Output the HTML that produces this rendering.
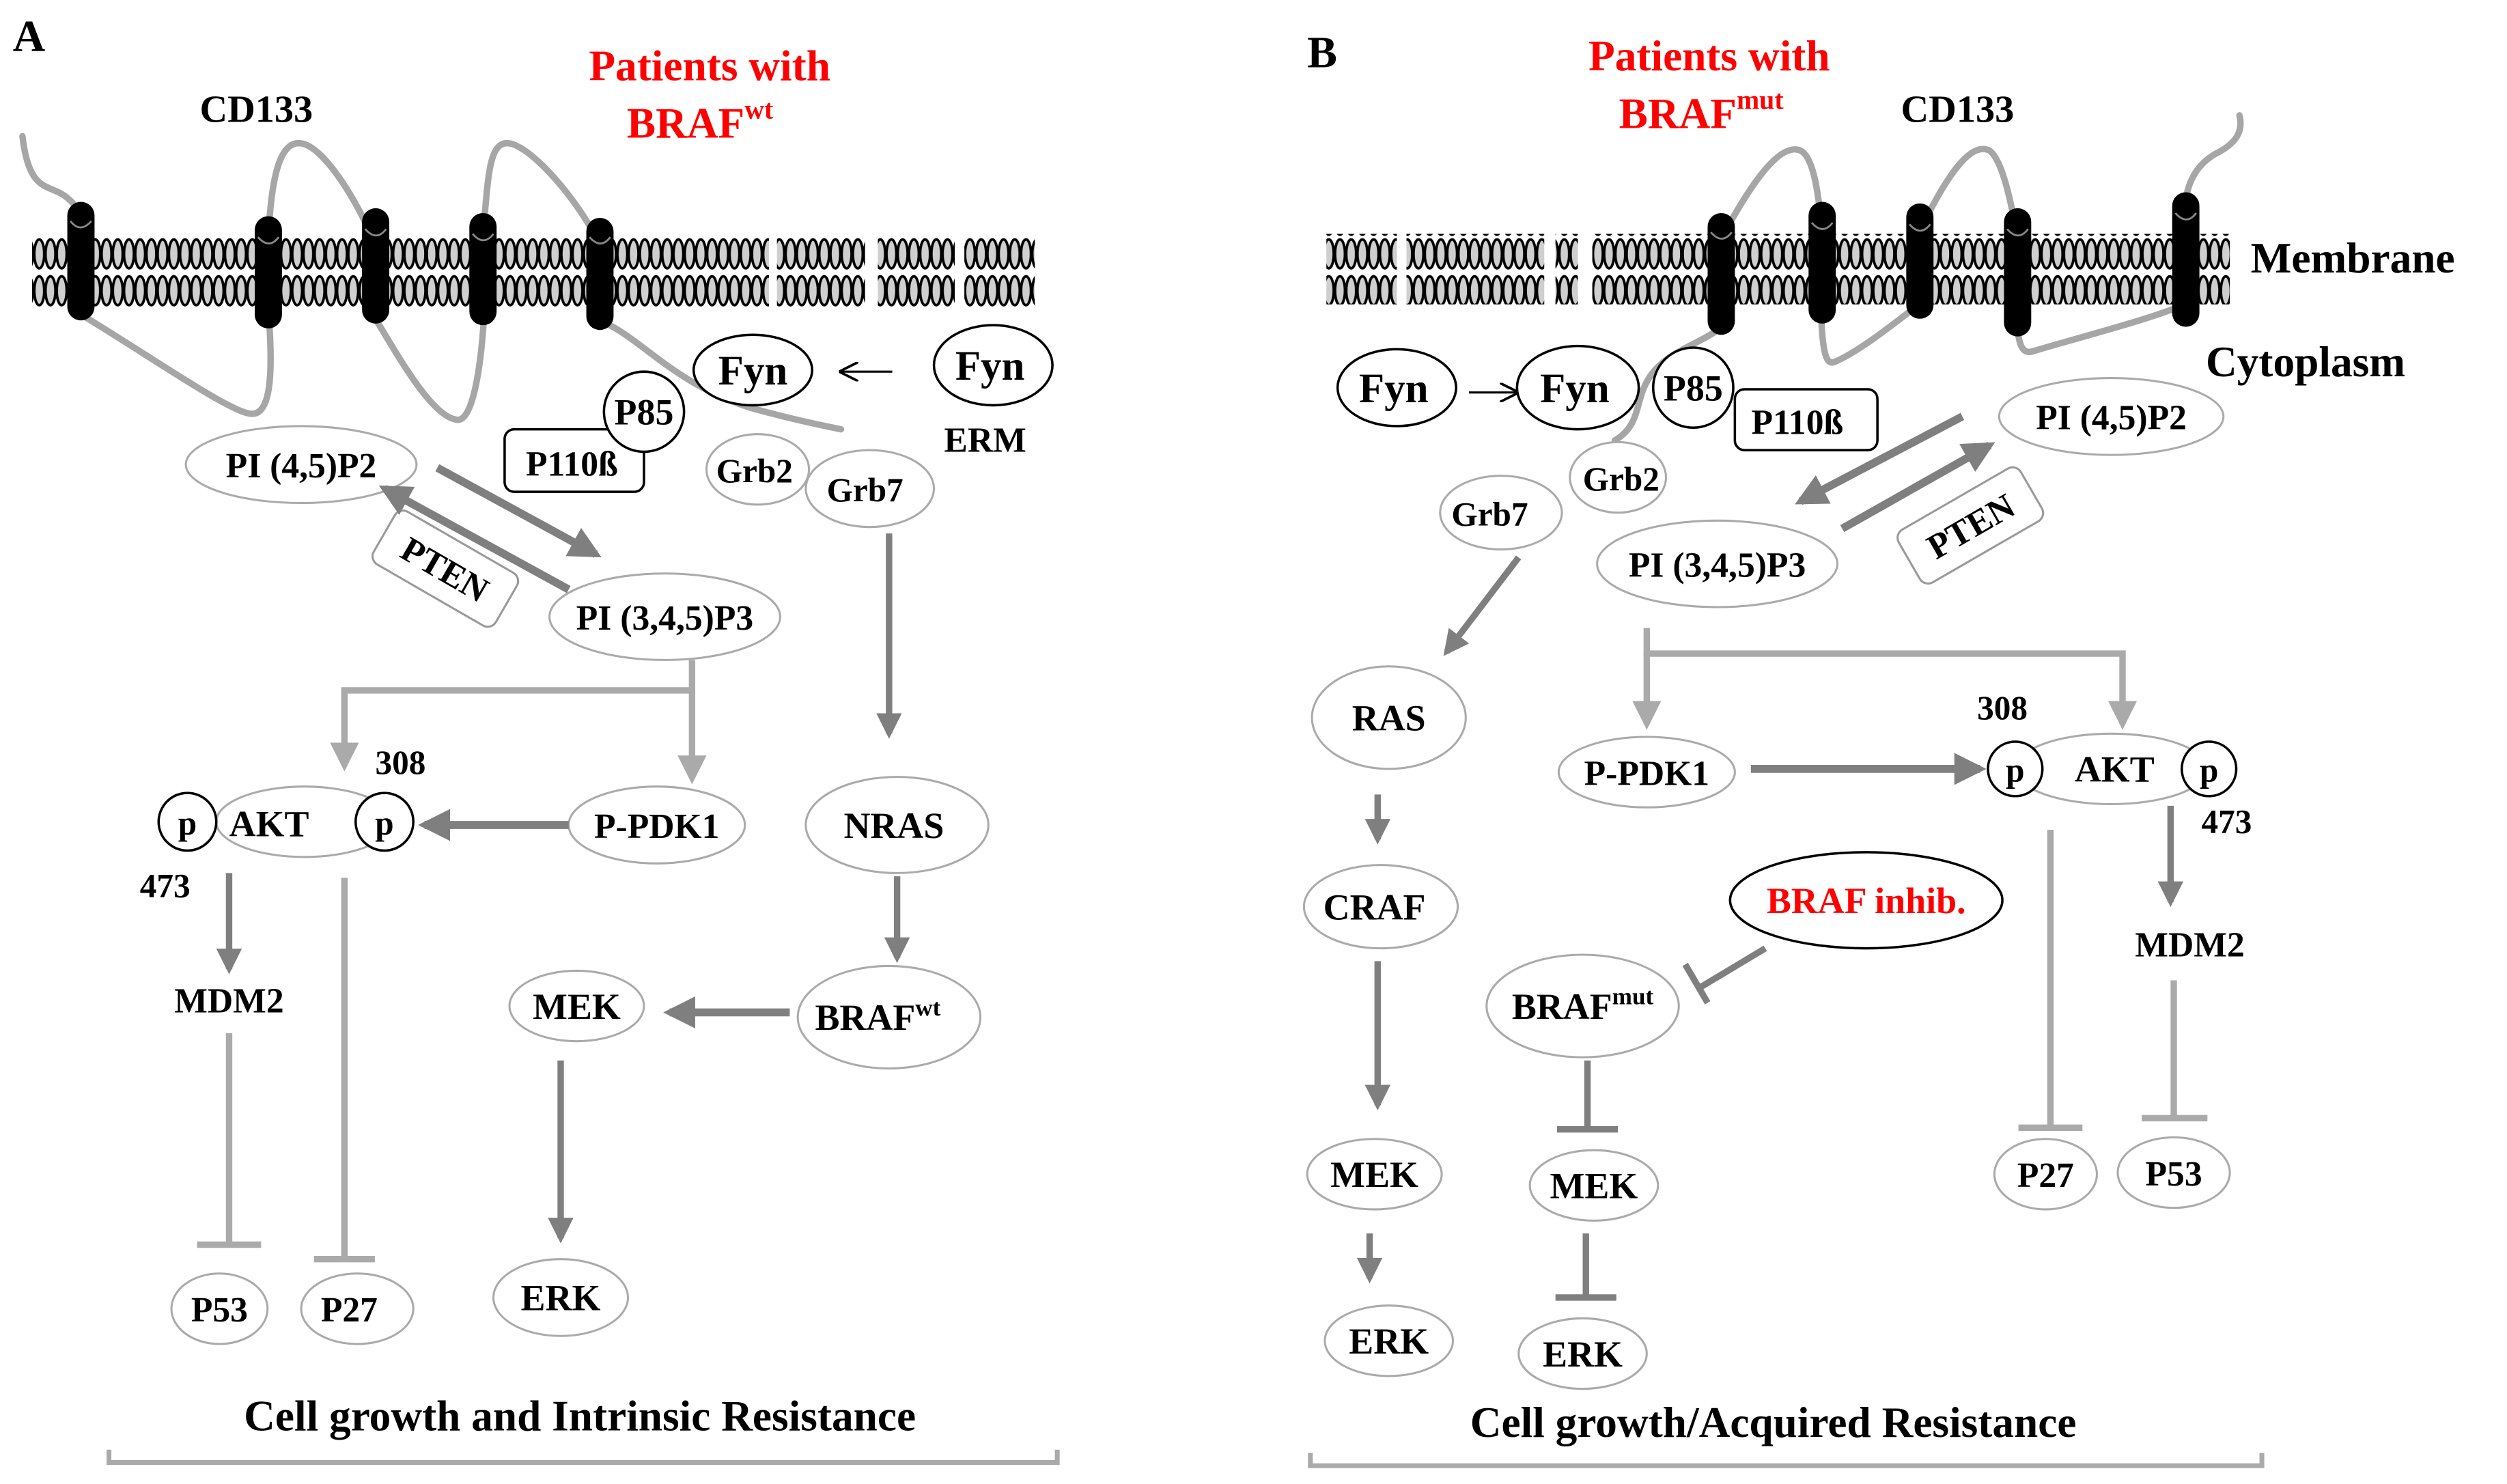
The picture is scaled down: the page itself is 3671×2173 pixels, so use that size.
<!DOCTYPE html>
<html><head><meta charset="utf-8"><style>
html,body{margin:0;padding:0;background:#fff;}
svg{display:block;}
svg text{font-family:"Liberation Serif","DejaVu Serif",serif !important;font-weight:bold;}
</style></head><body>
<svg width="3671" height="2173" viewBox="0 0 1565 926.4" xmlns="http://www.w3.org/2000/svg" font-family="Liberation Serif, serif">
<defs>
<pattern id="lip" x="0" y="148" width="7" height="44" patternUnits="userSpaceOnUse">
<rect x="0" y="0" width="7" height="44" fill="#fff"/>
<ellipse cx="3.5" cy="10.5" rx="3.1" ry="9" fill="#cfcfcf" stroke="#000" stroke-width="1.6"/>
<ellipse cx="3.5" cy="33.5" rx="3.1" ry="9" fill="#cfcfcf" stroke="#000" stroke-width="1.6"/>
</pattern>
<marker id="ah" viewBox="0 0 10 10" refX="8" refY="5" markerWidth="4" markerHeight="4" orient="auto"><path d="M0,0 L10,5 L0,10 z" fill="#7f7f7f"/></marker>
<marker id="al" viewBox="0 0 10 10" refX="8" refY="5" markerWidth="4.5" markerHeight="4.5" orient="auto"><path d="M0,0 L10,5 L0,10 z" fill="#aaa"/></marker>
<marker id="ab" viewBox="0 0 10 10" refX="9" refY="5" markerWidth="12" markerHeight="12" orient="auto" markerUnits="userSpaceOnUse"><path d="M0,0 L10,5 L0,10" fill="none" stroke="#000" stroke-width="1.3"/></marker>
</defs>
<rect width="1565" height="927" fill="#fff"/>

<!-- ============ PANEL A ============ -->
<text x="8" y="32" font-size="28">A</text>
<text x="160" y="76" font-size="24" text-anchor="middle">CD133</text>
<text x="443" y="50" font-size="27" fill="#f00" text-anchor="middle">Patients with</text>
<text x="437" y="86" font-size="27" fill="#f00" text-anchor="middle">BRAF<tspan font-size="17" dy="-12">wt</tspan></text>

<g fill="url(#lip)">
<rect x="20" y="148" width="460" height="44"/>
<rect x="485" y="148" width="55" height="44"/>
<rect x="548" y="148" width="48" height="44"/>
<rect x="602" y="148" width="44" height="44"/>
</g>
<g fill="none" stroke="#a6a6a6" stroke-width="4" stroke-linecap="round">
<path d="M14,85 C18,120 30,115 40,122 C48,128 50,132 50,140"/>
<path d="M50,196 C90,220 140,255 155,258 C170,262 170,230 168,200"/>
<path d="M168,140 C170,110 175,85 190,90 C205,95 225,130 233,150"/>
<path d="M235,200 C250,225 270,260 285,262 C295,264 300,230 302,200"/>
<path d="M302,140 C305,110 305,85 320,90 C335,95 360,125 372,148"/>
<path d="M374,200 C400,210 420,240 470,255 C495,262 515,266 525,268"/>
</g>
<g fill="#000">
<rect x="42" y="126" width="17" height="74" rx="8.5"/>
<rect x="159" y="135" width="17" height="70" rx="8.5"/>
<rect x="226" y="130" width="17" height="72" rx="8.5"/>
<rect x="293" y="133" width="17" height="70" rx="8.5"/>
<rect x="366" y="136" width="17" height="70" rx="8.5"/>
</g>
<g fill="none" stroke="#888" stroke-width="1.2">
<path d="M44,138 Q50,146 57,138"/><path d="M161,148 Q168,156 174,148"/><path d="M228,143 Q235,151 241,143"/><path d="M295,146 Q302,154 308,146"/><path d="M368,148 Q375,156 381,148"/>
</g>

<ellipse cx="470" cy="231" rx="37" ry="22" fill="#fff" stroke="#000" stroke-width="1.5"/>
<text x="470" y="240" font-size="26" text-anchor="middle">Fyn</text>
<ellipse cx="620" cy="228" rx="37" ry="25" fill="#fff" stroke="#000" stroke-width="1.5"/>
<text x="618" y="237" font-size="26" text-anchor="middle">Fyn</text>
<line x1="557" y1="232" x2="525" y2="232" stroke="#000" stroke-width="1.3" marker-end="url(#ab)"/>
<text x="615" y="282" font-size="22" text-anchor="middle">ERM</text>

<rect x="315" y="268" width="87" height="39" rx="6" fill="#fff" stroke="#000" stroke-width="1.5"/>
<text x="357" y="297" font-size="22" text-anchor="middle">P110ß</text>
<circle cx="402" cy="257" r="25" fill="#fff" stroke="#000" stroke-width="1.5"/>
<text x="402" y="265" font-size="23" text-anchor="middle">P85</text>

<ellipse cx="473" cy="293" rx="32" ry="22" fill="#fff" stroke="#aaa" stroke-width="1.3"/>
<text x="471" y="301" font-size="21" text-anchor="middle">Grb2</text>
<ellipse cx="543" cy="305" rx="40" ry="24" fill="#fff" stroke="#aaa" stroke-width="1.3"/>
<text x="540" y="313" font-size="21" text-anchor="middle">Grb7</text>

<ellipse cx="188" cy="290" rx="72" ry="24" fill="#fff" stroke="#aaa" stroke-width="1.3"/>
<text x="188" y="298" font-size="22" text-anchor="middle">PI (4,5)P2</text>
<ellipse cx="415" cy="385" rx="72" ry="27" fill="#fff" stroke="#aaa" stroke-width="1.3"/>
<text x="415" y="393" font-size="22" text-anchor="middle">PI (3,4,5)P3</text>

<g transform="translate(278,355) rotate(30)">
<rect x="-44" y="-19" width="88" height="38" rx="6" fill="#fff" stroke="#999" stroke-width="1.3"/>
<text x="0" y="8" font-size="22" text-anchor="middle">PTEN</text>
</g>
<line x1="273" y1="292" x2="372" y2="346" stroke="#7f7f7f" stroke-width="5" marker-end="url(#ah)"/>
<line x1="355" y1="368" x2="240" y2="305" stroke="#7f7f7f" stroke-width="5" marker-end="url(#ah)"/>

<g stroke="#aaa" stroke-width="4" fill="none">
<polyline points="432,412 432,431 215,431 215,478" marker-end="url(#al)"/>
<line x1="432" y1="431" x2="432" y2="486" marker-end="url(#al)"/>
</g>

<ellipse cx="190" cy="513" rx="55" ry="22" fill="#fff" stroke="#aaa" stroke-width="1.3"/>
<text x="168" y="522" font-size="23" text-anchor="middle">AKT</text>
<circle cx="117" cy="513" r="18" fill="#fff" stroke="#000" stroke-width="1.5"/>
<text x="117" y="521" font-size="21" font-weight="normal" text-anchor="middle">p</text>
<circle cx="240" cy="513" r="18" fill="#fff" stroke="#000" stroke-width="1.5"/>
<text x="240" y="521" font-size="21" font-weight="normal" text-anchor="middle">p</text>
<text x="250" y="483" font-size="21" text-anchor="middle">308</text>
<text x="103" y="560" font-size="21" text-anchor="middle">473</text>

<ellipse cx="410" cy="515" rx="55" ry="24" fill="#fff" stroke="#aaa" stroke-width="1.3"/>
<text x="410" y="523" font-size="22" text-anchor="middle">P-PDK1</text>
<line x1="355" y1="515" x2="265" y2="515" stroke="#7f7f7f" stroke-width="5" marker-end="url(#ah)"/>

<line x1="555" y1="333" x2="555" y2="458" stroke="#7f7f7f" stroke-width="4" marker-end="url(#ah)"/>
<ellipse cx="560" cy="515" rx="57" ry="30" fill="#fff" stroke="#aaa" stroke-width="1.3"/>
<text x="558" y="523" font-size="23" text-anchor="middle">NRAS</text>
<line x1="560" y1="547" x2="560" y2="598" stroke="#7f7f7f" stroke-width="4" marker-end="url(#ah)"/>
<ellipse cx="555" cy="635" rx="57" ry="32" fill="#fff" stroke="#aaa" stroke-width="1.3"/>
<text x="548" y="643" font-size="23" text-anchor="middle">BRAF<tspan font-size="15" dy="-9">wt</tspan></text>
<line x1="493" y1="632" x2="418" y2="632" stroke="#7f7f7f" stroke-width="5" marker-end="url(#ah)"/>
<ellipse cx="360" cy="628" rx="42" ry="22" fill="#fff" stroke="#aaa" stroke-width="1.3"/>
<text x="360" y="636" font-size="23" text-anchor="middle">MEK</text>
<line x1="350" y1="662" x2="350" y2="773" stroke="#7f7f7f" stroke-width="4" marker-end="url(#ah)"/>
<ellipse cx="350" cy="810" rx="42" ry="24" fill="#fff" stroke="#aaa" stroke-width="1.3"/>
<text x="350" y="818" font-size="23" text-anchor="middle">ERK</text>

<line x1="143" y1="545" x2="143" y2="605" stroke="#7f7f7f" stroke-width="4" marker-end="url(#ah)"/>
<text x="143" y="632" font-size="22" text-anchor="middle">MDM2</text>
<g stroke="#aaa" stroke-width="4">
<line x1="143" y1="645" x2="143" y2="777"/><line x1="123" y1="777" x2="163" y2="777"/>
<line x1="215" y1="548" x2="215" y2="786"/><line x1="196" y1="786" x2="234" y2="786"/>
</g>
<ellipse cx="137" cy="817" rx="30" ry="22" fill="#fff" stroke="#aaa" stroke-width="1.3"/>
<text x="137" y="825" font-size="22" text-anchor="middle">P53</text>
<ellipse cx="223" cy="817" rx="35" ry="22" fill="#fff" stroke="#aaa" stroke-width="1.3"/>
<text x="218" y="825" font-size="22" text-anchor="middle">P27</text>

<text x="362" y="893" font-size="27" text-anchor="middle">Cell growth and Intrinsic Resistance</text>
<polyline points="68,905 68,913 660,913 660,905" fill="none" stroke="#aaa" stroke-width="3"/>

<!-- ============ PANEL B ============ -->
<text x="816" y="42" font-size="28">B</text>
<text x="1067" y="44" font-size="27" fill="#f00" text-anchor="middle">Patients with</text>
<text x="1062" y="80" font-size="27" fill="#f00" text-anchor="middle">BRAF<tspan font-size="17" dy="-12">mut</tspan></text>
<text x="1222" y="76" font-size="24" text-anchor="middle">CD133</text>
<text x="1405" y="170" font-size="27">Membrane</text>
<text x="1377" y="235" font-size="27">Cytoplasm</text>

<g fill="url(#lip)">
<rect x="828" y="146" width="44" height="44"/>
<rect x="878" y="146" width="86" height="44"/>
<rect x="971" y="146" width="14" height="44"/>
<rect x="994" y="146" width="398" height="44"/>
</g>
<g fill="none" stroke="#a6a6a6" stroke-width="4" stroke-linecap="round">
<path d="M1074,150 C1090,120 1110,88 1124,94 C1132,98 1135,120 1137,140"/>
<path d="M1137,200 C1138,220 1140,228 1145,226 C1160,220 1185,200 1198,190"/>
<path d="M1198,145 C1215,110 1230,88 1242,94 C1250,100 1255,125 1259,145"/>
<path d="M1259,200 C1260,215 1262,222 1270,219 C1300,210 1340,200 1364,190"/>
<path d="M1364,130 C1365,110 1375,100 1385,95 C1398,88 1400,80 1398,72"/>
<path d="M1074,205 C1060,215 1040,220 1030,235 C1020,250 1025,265 1008,275"/>
</g>
<g fill="#000">
<rect x="1066" y="133" width="17" height="76" rx="8.5"/>
<rect x="1129" y="126" width="17" height="76" rx="8.5"/>
<rect x="1190" y="127" width="17" height="72" rx="8.5"/>
<rect x="1251" y="130" width="17" height="80" rx="8.5"/>
<rect x="1356" y="120" width="17" height="84" rx="8.5"/>
</g>
<g fill="none" stroke="#888" stroke-width="1.2">
<path d="M1068,145 Q1075,153 1081,145"/><path d="M1131,139 Q1138,147 1144,139"/><path d="M1192,140 Q1199,148 1205,140"/><path d="M1253,143 Q1260,151 1266,143"/><path d="M1358,133 Q1365,141 1371,133"/>
</g>

<ellipse cx="872" cy="242" rx="37" ry="24" fill="#fff" stroke="#000" stroke-width="1.5"/>
<text x="870" y="251" font-size="26" text-anchor="middle">Fyn</text>
<line x1="917" y1="245" x2="947" y2="245" stroke="#000" stroke-width="1.3" marker-end="url(#ab)"/>
<ellipse cx="985" cy="242" rx="38" ry="26" fill="#fff" stroke="#000" stroke-width="1.5"/>
<text x="983" y="251" font-size="26" text-anchor="middle">Fyn</text>
<rect x="1083" y="243" width="89" height="38" rx="6" fill="#fff" stroke="#000" stroke-width="1.5"/>
<text x="1122" y="271" font-size="22" text-anchor="middle">P110ß</text>
<circle cx="1057" cy="242" r="25" fill="#fff" stroke="#000" stroke-width="1.5"/>
<text x="1057" y="250" font-size="23" text-anchor="middle">P85</text>

<ellipse cx="937" cy="320" rx="38" ry="23" fill="#fff" stroke="#aaa" stroke-width="1.3"/>
<text x="930" y="328" font-size="21" text-anchor="middle">Grb7</text>
<ellipse cx="1010" cy="298" rx="30" ry="22" fill="#fff" stroke="#aaa" stroke-width="1.3"/>
<text x="1012" y="306" font-size="21" text-anchor="middle">Grb2</text>

<ellipse cx="1318" cy="260" rx="70" ry="24" fill="#fff" stroke="#aaa" stroke-width="1.3"/>
<text x="1318" y="268" font-size="22" text-anchor="middle">PI (4,5)P2</text>
<ellipse cx="1072" cy="352" rx="75" ry="27" fill="#fff" stroke="#aaa" stroke-width="1.3"/>
<text x="1072" y="360" font-size="22" text-anchor="middle">PI (3,4,5)P3</text>
<g transform="translate(1230,328) rotate(-30)">
<rect x="-44" y="-19" width="88" height="38" rx="6" fill="#fff" stroke="#999" stroke-width="1.3"/>
<text x="0" y="8" font-size="22" text-anchor="middle">PTEN</text>
</g>
<line x1="1225" y1="260" x2="1124" y2="313" stroke="#7f7f7f" stroke-width="5" marker-end="url(#ah)"/>
<line x1="1150" y1="330" x2="1242" y2="278" stroke="#7f7f7f" stroke-width="5" marker-end="url(#ah)"/>

<line x1="948" y1="348" x2="903" y2="407" stroke="#7f7f7f" stroke-width="4" marker-end="url(#ah)"/>
<ellipse cx="867" cy="448" rx="48" ry="32" fill="#fff" stroke="#aaa" stroke-width="1.3"/>
<text x="867" y="456" font-size="23" text-anchor="middle">RAS</text>
<line x1="860" y1="496" x2="860" y2="524" stroke="#7f7f7f" stroke-width="4" marker-end="url(#ah)"/>
<ellipse cx="862" cy="566" rx="48" ry="26" fill="#fff" stroke="#aaa" stroke-width="1.3"/>
<text x="858" y="574" font-size="23" text-anchor="middle">CRAF</text>
<line x1="860" y1="600" x2="860" y2="690" stroke="#7f7f7f" stroke-width="4" marker-end="url(#ah)"/>
<ellipse cx="858" cy="733" rx="42" ry="22" fill="#fff" stroke="#aaa" stroke-width="1.3"/>
<text x="858" y="741" font-size="23" text-anchor="middle">MEK</text>
<line x1="855" y1="770" x2="855" y2="798" stroke="#7f7f7f" stroke-width="4" marker-end="url(#ah)"/>
<ellipse cx="867" cy="837" rx="40" ry="22" fill="#fff" stroke="#aaa" stroke-width="1.3"/>
<text x="867" y="845" font-size="23" text-anchor="middle">ERK</text>

<g stroke="#aaa" stroke-width="4" fill="none">
<polyline points="1028,392 1028,408 1325,408 1325,452" marker-end="url(#al)"/>
<line x1="1028" y1="408" x2="1028" y2="452" marker-end="url(#al)"/>
</g>
<text x="1250" y="449" font-size="21" text-anchor="middle">308</text>
<ellipse cx="1028" cy="482" rx="55" ry="22" fill="#fff" stroke="#aaa" stroke-width="1.3"/>
<text x="1028" y="490" font-size="22" text-anchor="middle">P-PDK1</text>
<line x1="1093" y1="480" x2="1236" y2="480" stroke="#7f7f7f" stroke-width="5" marker-end="url(#ah)"/>
<ellipse cx="1318" cy="480" rx="60" ry="22" fill="#fff" stroke="#aaa" stroke-width="1.3"/>
<text x="1320" y="488" font-size="23" text-anchor="middle">AKT</text>
<circle cx="1258" cy="480" r="17" fill="#fff" stroke="#000" stroke-width="1.5"/>
<text x="1258" y="488" font-size="21" font-weight="normal" text-anchor="middle">p</text>
<circle cx="1379" cy="480" r="17" fill="#fff" stroke="#000" stroke-width="1.5"/>
<text x="1379" y="488" font-size="21" font-weight="normal" text-anchor="middle">p</text>
<text x="1390" y="520" font-size="21" text-anchor="middle">473</text>

<line x1="1355" y1="503" x2="1355" y2="563" stroke="#7f7f7f" stroke-width="4" marker-end="url(#ah)"/>
<text x="1367" y="597" font-size="22" text-anchor="middle">MDM2</text>
<g stroke="#aaa" stroke-width="4">
<line x1="1357" y1="612" x2="1357" y2="698"/><line x1="1337" y1="698" x2="1378" y2="698"/>
<line x1="1280" y1="518" x2="1280" y2="704"/><line x1="1260" y1="704" x2="1300" y2="704"/>
</g>
<ellipse cx="1357" cy="732" rx="35" ry="22" fill="#fff" stroke="#aaa" stroke-width="1.3"/>
<text x="1357" y="740" font-size="22" text-anchor="middle">P53</text>
<ellipse cx="1277" cy="733" rx="32" ry="22" fill="#fff" stroke="#aaa" stroke-width="1.3"/>
<text x="1277" y="741" font-size="22" text-anchor="middle">P27</text>

<ellipse cx="1165" cy="562" rx="85" ry="30" fill="#fff" stroke="#000" stroke-width="1.5"/>
<text x="1165" y="570" font-size="23" fill="#f00" text-anchor="middle">BRAF inhib.</text>
<g stroke="#7f7f7f" stroke-width="4">
<line x1="1102" y1="592" x2="1062" y2="616"/><line x1="1052" y1="602" x2="1066" y2="626"/>
</g>
<ellipse cx="988" cy="628" rx="60" ry="32" fill="#fff" stroke="#aaa" stroke-width="1.3"/>
<text x="988" y="636" font-size="23" text-anchor="middle">BRAF<tspan font-size="15" dy="-9">mut</tspan></text>
<g stroke="#7f7f7f" stroke-width="4">
<line x1="991" y1="662" x2="991" y2="705"/><line x1="972" y1="705" x2="1010" y2="705"/>
<line x1="990" y1="770" x2="990" y2="810"/><line x1="971" y1="810" x2="1009" y2="810"/>
</g>
<ellipse cx="995" cy="740" rx="40" ry="22" fill="#fff" stroke="#aaa" stroke-width="1.3"/>
<text x="995" y="748" font-size="23" text-anchor="middle">MEK</text>
<ellipse cx="988" cy="845" rx="40" ry="22" fill="#fff" stroke="#aaa" stroke-width="1.3"/>
<text x="988" y="853" font-size="23" text-anchor="middle">ERK</text>

<text x="1107" y="897" font-size="27" text-anchor="middle">Cell growth/Acquired Resistance</text>
<polyline points="818,907 818,915 1412,915 1412,907" fill="none" stroke="#aaa" stroke-width="3"/>
</svg>
</body></html>
